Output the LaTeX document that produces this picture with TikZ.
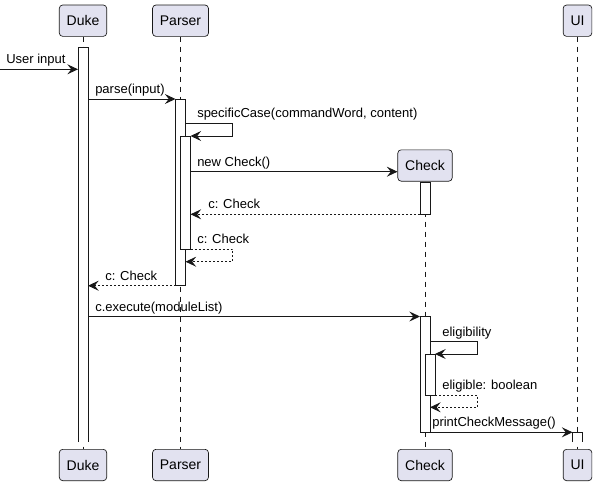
\documentclass[tikz,border=0pt]{standalone}
\usepackage{fontspec}
\setmainfont{Liberation Sans}
\usetikzlibrary{arrows.meta}
\definecolor{partfill}{HTML}{E2E2F0}
\definecolor{umlline}{HTML}{181818}
\tikzset{
  participant/.style={draw=umlline, line width=0.5pt, fill=partfill, rounded corners=2.5pt,
    minimum height=23.5pt, inner xsep=5.5pt, inner ysep=0pt, text=black,
    font=\fontsize{10.5}{12}\selectfont},
  lifeline/.style={draw=umlline, line width=0.4pt, dash pattern=on 3.75pt off 3.75pt},
  actbar/.style={draw=umlline, line width=0.75pt},
  msg/.style={draw=umlline, line width=0.75pt, -{Stealth[length=8pt,width=7.5pt,inset=3pt]}},
  reply/.style={msg, dash pattern=on 1.5pt off 1.5pt},
  msglabel/.style={anchor=base west, inner sep=0pt, text=black, font=\fontsize{9.75}{11}\selectfont},
}
\begin{document}
\begin{tikzpicture}[x=0.75pt,y=-0.75pt]
        \useasboundingbox (0,0) rectangle (595,485);%

        % Participants at the top and at the bottom
        \node [participant] (duke) at (83,20.7) {Duke};%
        \node [participant] (parser) at (180.5,20.7) {Parser};%
        \node [participant] (ui) at (577.5,20.7) {UI};%
        \node [participant] (check) at (425,165.5) {Check};%
        \node [participant] (dukeBot) at (83,465) {Duke};%
        \node [participant] (parserBot) at (180.5,465) {Parser};%
        \node [participant] (checkBot) at (425,465) {Check};%
        \node [participant] (uiBot) at (577.5,465) {UI};%

        % Lifelines
        \draw [lifeline] (duke.south) -- (dukeBot.north);%
        \draw [lifeline] (parser.south) -- (parserBot.north);%
        \draw [lifeline] (check.south) -- (checkBot.north);%
        \draw [lifeline] (ui.south) -- (uiBot.north);%

        % Activation of Duke (open at the bottom)
        \fill [white] (78,47.7) rectangle (88,442);%
        \draw [actbar] (78,442) -- (78,47.7) -- (88,47.7) -- (88,442);%

        % Activations of Parser
        \filldraw [actbar, fill=white] (175.5,99) rectangle (185.5,285.7);%
        \filldraw [actbar, fill=white] (180.5,136) rectangle (190.5,249);%

        % Activations of Check
        \filldraw [actbar, fill=white] (420,182) rectangle (430,214.3);%
        \filldraw [actbar, fill=white] (420,316.5) rectangle (430,432.3);%
        \filldraw [actbar, fill=white] (425,354) rectangle (435,395);%

        % Activation of UI (open at the bottom)
        \fill [white] (572.5,432.3) rectangle (582.5,442);%
        \draw [actbar] (572.5,442) -- (572.5,432.3) -- (582.5,432.3) -- (582.5,442);%

        % Message end points
        \coordinate (userIn) at (0,69.3);%
        \coordinate (dukeIn) at (78,69.3);%
        \coordinate (parseOut) at (88,99);%
        \coordinate (parseIn) at (175.5,99);%
        \coordinate (caseOut) at (185.5,123.3);%
        \coordinate (caseIn) at (190.5,136);%
        \coordinate (newOut) at (190.5,171.7);%
        \coordinate (newBack) at (420,214.3);%
        \coordinate (newBackIn) at (190.5,214.3);%
        \coordinate (caseBack) at (190.5,249);%
        \coordinate (caseBackIn) at (185.5,261.7);%
        \coordinate (parseBack) at (175.5,285.7);%
        \coordinate (parseBackIn) at (88,285.7);%
        \coordinate (execOut) at (88,316.5);%
        \coordinate (execIn) at (420,316.5);%
        \coordinate (eligOut) at (430,341.7);%
        \coordinate (eligIn) at (435,354);%
        \coordinate (eligBack) at (435,395);%
        \coordinate (eligBackIn) at (430,407.3);%
        \coordinate (printOut) at (430,432.3);%
        \coordinate (printIn) at (572.5,432.3);%

        % Messages
        \draw [msg] (userIn) -- (dukeIn);%
        \node [msglabel] at (6,63.5) {User input};%
        \draw [msg] (parseOut) -- (parseIn);%
        \node [msglabel] at (95,93.5) {parse(input)};%
        \draw [msg] (caseOut) -- ++(47,0) |- (caseIn);%
        \node [msglabel] at (197,117.8) {specificCase(commandWord, content)};%
        \draw [msg] (newOut) -- (check.west |- newOut);%
        \node [msglabel] at (197,166.2) {new Check()};%
        \draw [reply] (newBack) -- (newBackIn);%
        \node [msglabel] at (208,208.8) {c: Check};%
        \draw [reply] (caseBack) -- ++(42,0) |- (caseBackIn);%
        \node [msglabel] at (197,243.5) {c: Check};%
        \draw [reply] (parseBack) -- (parseBackIn);%
        \node [msglabel] at (105,280.2) {c: Check};%
        \draw [msg] (execOut) -- (execIn);%
        \node [msglabel] at (95,311) {c.execute(moduleList)};%
        \draw [msg] (eligOut) -- ++(47.3,0) |- (eligIn);%
        \node [msglabel] at (442,336.2) {eligibility};%
        \draw [reply] (eligBack) -- ++(42.3,0) |- (eligBackIn);%
        \node [msglabel] at (442,389.5) {eligible: boolean};%
        \draw [msg] (printOut) -- (printIn);%
        \node [msglabel] at (432,426.8) {printCheckMessage()};%
    \end{tikzpicture}
\end{document}
